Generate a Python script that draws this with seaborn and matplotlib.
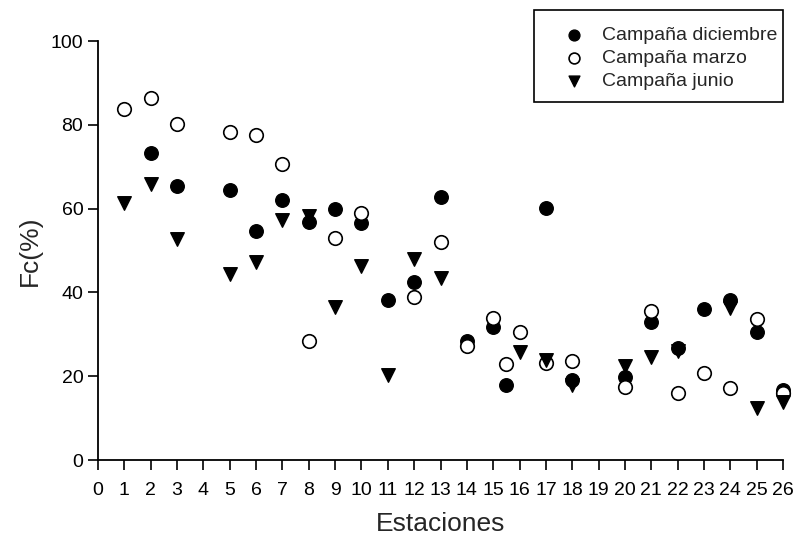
import matplotlib
matplotlib.use("Agg")
import matplotlib.pyplot as plt
from matplotlib.patches import Rectangle
import seaborn as sns
import pandas as pd

# Data
dic_x = [2, 3, 5, 6, 7, 8, 9, 10, 11, 12, 13, 14, 15, 15.5, 17, 18, 20, 21, 22, 23, 24, 25, 26]
dic_y = [73.2, 65.4, 64.4, 54.7, 62.1, 56.9, 60.0, 56.5, 38.2, 42.6, 62.8, 28.5, 31.8, 17.9,
         60.1, 19.2, 19.9, 33.0, 26.8, 36.0, 38.2, 30.6, 16.7]

mar_x = [1, 2, 3, 5, 6, 7, 8, 9, 10, 12, 13, 14, 15, 15.5, 16, 17, 18, 20, 21, 22, 23, 24, 25, 26]
mar_y = [83.7, 86.5, 80.2, 78.3, 77.6, 70.6, 28.5, 53.1, 58.9, 38.8, 52.0, 27.3, 34.0, 22.8,
         30.6, 23.2, 23.6, 17.5, 35.6, 15.9, 20.8, 17.1, 33.6, 15.9]

jun_x = [1, 2, 3, 5, 6, 7, 8, 9, 10, 11, 12, 13, 16, 17, 18, 20, 21, 22, 24, 25, 26]
jun_y = [61.3, 65.9, 52.8, 44.4, 47.2, 57.3, 58.3, 36.4, 46.3, 20.3, 47.9, 43.5, 25.7, 23.9,
         17.9, 22.5, 24.5, 25.9, 36.2, 12.3, 13.9]

labels = ["Campaña diciembre", "Campaña marzo", "Campaña junio"]
x_ticks = list(range(0, 27))
y_ticks = [0, 20, 40, 60, 80, 100]

sns.set_style("ticks")
plt.rcParams["font.family"] = ["Liberation Sans", "DejaVu Sans"]

W, H = 797, 541
fig = plt.figure(figsize=(W / 100, H / 100), dpi=100)
ax = fig.add_axes([0.123, 0.1497, 0.8594, 0.7745])

df_d = pd.DataFrame({"x": dic_x, "y": dic_y})
df_m = pd.DataFrame({"x": mar_x, "y": mar_y})
df_j = pd.DataFrame({"x": jun_x, "y": jun_y})

ms = 95
sns.scatterplot(data=df_d, x="x", y="y", ax=ax, marker="o", s=ms, color="black",
                edgecolor="black", linewidth=1.0, label=labels[0], clip_on=False, zorder=3)
sns.scatterplot(data=df_m, x="x", y="y", ax=ax, marker="o", s=ms, facecolor="white",
                edgecolor="black", linewidth=1.2, label=labels[1], clip_on=False, zorder=4)
sns.scatterplot(data=df_j, x="x", y="y", ax=ax, marker="v", s=ms, color="black",
                edgecolor="black", linewidth=1.0, label=labels[2], clip_on=False, zorder=5)

ax.set_xlim(0, 26)
ax.set_ylim(0, 100)
ax.set_xticks(x_ticks)
ax.set_xticklabels([str(t) for t in x_ticks])
ax.set_yticks(y_ticks)
ax.set_yticklabels([str(t) for t in y_ticks])
ax.tick_params(axis="both", direction="out", length=7, width=1.2, colors="black",
               labelsize=14)
ax.tick_params(axis="y", pad=3.6)
ax.tick_params(axis="x", pad=9)
for side in ["top", "right"]:
    ax.spines[side].set_visible(False)
for side in ["left", "bottom"]:
    ax.spines[side].set_linewidth(1.3)
    ax.spines[side].set_color("black")

ax.set_xlabel("Estaciones", fontsize=19, labelpad=9)
ax.set_ylabel("Fc(%)", fontsize=19, labelpad=6)

# legend (no frame) + manual box like the original
fs = 14
fs_px = fs * 100 / 72
handle_px = fs_px * 1.0
anchor_x = (574 - handle_px / 2) / W
anchor_y = 1 - 26.0 / H
leg = ax.legend(loc="upper left", bbox_to_anchor=(anchor_x, anchor_y),
                bbox_transform=fig.transFigure, frameon=False,
                fontsize=fs, markerscale=0.8, handletextpad=(602 - 574 - handle_px / 2) / fs_px,
                labelspacing=0.28, borderpad=0, borderaxespad=0, handlelength=1.0)
fig.patches.append(Rectangle((534 / W, 1 - 102 / H), (783 - 534) / W, 92 / H,
                             transform=fig.transFigure, fill=False,
                             edgecolor="black", linewidth=1.2, zorder=10))

fig.savefig("out.png", dpi=100, facecolor="white")
